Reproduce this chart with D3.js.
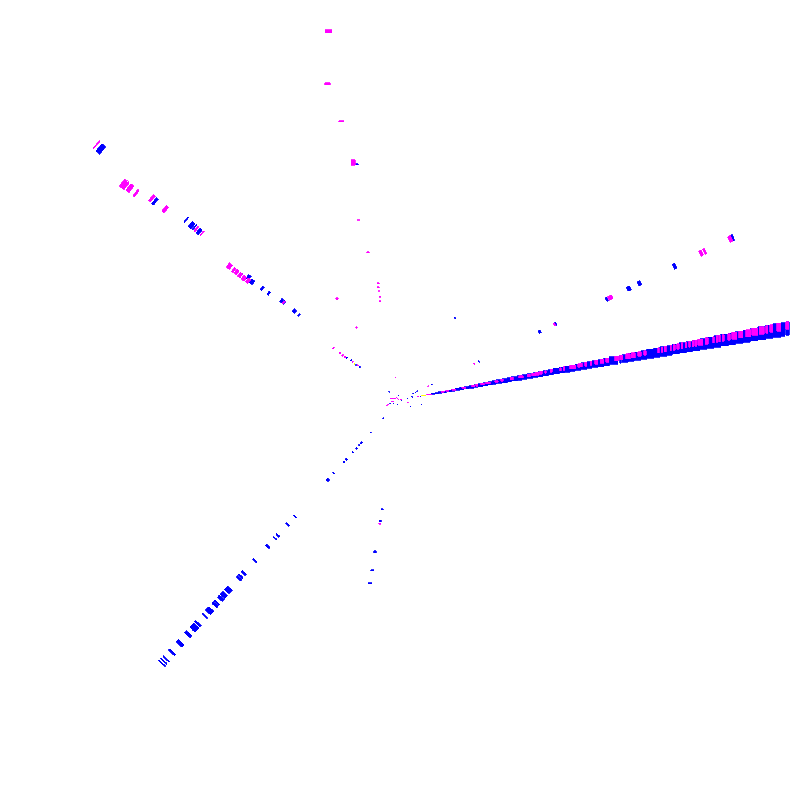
<!DOCTYPE html>
<html>
<head>
<meta charset="utf-8">
<script src="https://cdn.jsdelivr.net/npm/d3@7"></script>
<style>html,body{margin:0;padding:0;background:#fff}svg{display:block}</style>
</head>
<body>
<svg id="chart" width="800" height="800"></svg>
<script>
// Main band rows: [start radius, radial thickness].
const mainBearing = [78.55, 80.55];
const mainMagentaBearing = [78.55, 79.7];
const mainBlue = [[32,4],[36,3],[39,4],[43,4],[47,5],[52,4],[56,5],[61,4],[65,5],[70,5],[75,4],[79,5],[84,5],[89,5],[94,4],[98,6],[104,5],[109,4],[113,6],[119,5],[124,5],[129,6],[135,5],[140,5],[145,6],[151,5],[156,6],[162,5],[167,6],[173,5],[178,6],[184,6],[190,5],[195,6],[201,6],[207,6],[213,8.5],[223.5,1.5],[226,6],[232,6],[238,7],[245,6],[251,7],[258,6],[264,7],[271,6],[277,7],[284,7],[291,6],[297,8],[305,7],[312,7],[319,7],[326,8],[334,7],[341,8],[349,7],[356,8],[364,8],[372,7],[379,8],[387,4],[392.5,3.5]];
const mainMagenta = [[27,5],[42,3],[46.7,3],[52.6,4],[62.7,4],[72.9,3.4],[77.2,2],[82.3,3.4],[87.4,4.7],[96.5,3.4],[102.6,2.3],[112.5,2.7],[121,4.7],[129.4,3],[134,4],[137.5,4.4],[142.3,2.7],[147.4,1.7],[153.2,2],[162.6,1.7],[166,1.7],[172.8,6],[181.2,1.7],[183.6,2],[188,2.4],[193.8,1.7],[198.2,3.4],[204,3.4],[209.3,3.4],[218.5,4.4],[223.6,3.4],[229.7,4.7],[235.4,4],[242.2,3.4],[248,2.7],[262.5,1.7],[266,1.7],[269.3,1.7],[275,1],[278.5,2],[281.8,2.7],[286.3,1.7],[290.6,1.4],[294,1.4],[297.5,1.8],[300,2],[303.2,5],[311,3],[318.4,1.7],[321.8,1.7],[324.5,1.4],[328,2.4],[333.7,2.4],[338,4.7],[344.8,4],[352.3,5],[358.4,5.7],[365.9,5],[372.6,1.7],[376.7,2.7],[383.5,4.4],[393,2.7]];

// Arm rows: [centre radius, radial thickness], on one bearing (degrees clockwise from north).
const lowerLeftBearing = 222.1;
const lowerLeftBlue = [[24.8,1],[43.6,1],[57,1],[58.4,1],[61,1],[65,1.5],[70.5,1],[80,1.5],[83.6,2],[98.8,1],[107.8,2.5],[156.8,1],[167.6,1.5],[182.4,1.5],[186.4,1],[197.3,2],[216.5,1.5],[233.2,2],[237.6,1.5],[240.3,2],[256,5],[262.8,4],[267.3,3],[273.2,1.5],[275.9,2.5],[284,5],[291,1],[301.5,2],[306.8,6],[315.8,3],[328,3.5],[340,2],[349,1],[352.2,1],[355,1]];

const upperRightBearing = 64;
const upperRightBlue = [[35.4,1],[87.7,1],[155.4,2],[172.8,2.5],[229.9,1.5],[254.4,3.5],[266.2,3],[305.5,3],[370,2]];
const upperRightMagenta = [[31.4,1],[82.6,1],[172,1],[232.1,1],[234.7,3],[335,2.5],[339,2],[367.5,3]];

const lowerBearing = 189.3;
const lowerBlue = [[110.8,1],[122.6,2],[154,2],[172.5,1],[185.7,1]];
const lowerMagenta = [[125.4,0.8]];

// Marks with their own bearing: [bearing, centre radius, radial thickness]
const upperLeftBlue = [[307.8,13.5,1],[309.3,51.7,1],[309.3,52.1,1],[308.5,56.2,1],[309,63,1],[308.4,68,1],[310.1,132,1],[310,137,1],[310.1,138.6,2],[310.1,151.7,2],[310,154.5,2.5],[309.1,169.2,2],[309,177.3,2],[308.6,189.5,4],[309,195,3],[308,202,1],[310,262.2,3],[310.1,268.5,1],[310,272,4],[310.1,279.6,1],[309,315.4,2.5],[310,390.6,5]];
const upperLeftMagenta = [[309.4,54.7,1],[308.8,60.7,1],[308,69.8,1.5],[308,72.7,1],[308.1,76.2,1.5],[308,84.6,1],[310,151.8,1],[308.1,193.2,3],[308,197.9,4],[308,203,3],[308.1,207.5,3],[308,211,2],[308.1,216.8,4],[310.1,258.8,1],[310,266,1.5],[309.1,302.6,3],[309.1,319.7,2.5],[308.1,335.3,2],[308.1,343.3,4],[308,350,6],[310.1,396.6,1]];
const looseBlue = [[349.5,240,1],[33.9,98.7,1],[338,4.6,1],[251,10.2,1.5],[244,7.5,1.5],[212,5.1,1.5],[112,1.8,1],[77.5,7.9,1.5],[121.5,12,1.5],[101.4,21.7,1.5],[73.7,11.8,1.5],[63.3,14.9,1],[64.5,17,1],[63.3,19.4,1],[77.6,12.6,1],[80.8,20.6,1]];
const looseMagenta = [[349,375.6,3],[347.05,324.5,2],[348.1,284.8,1],[348.9,242,6],[346.9,184.8,1],[347.8,151.4,1],[349.4,119,1],[349,115,1],[349.1,111,1],[349,105,1],[348.5,100.8,1],[349.3,23.1,1.5],[328.1,119.3,2],[329.2,84.6,1],[284,6.9,3],[281.6,8.5,3],[289,5.3,3],[301,2.9,3],[67,1.2,2.4],[256.9,7.5,3],[247.9,13.3,2.5],[107.5,7.7,1.5],[78.4,18.4,1.5]];
const looseYellow = [[308.5,57.9,1],[79.4,24,4]];

const colorBlue = "#0000ff", colorMagenta = "#ff00ff", colorYellow = "#ffff00";
const spanWide = 1.4, spanNarrow = 1.0;

const radius = d3.scaleLinear().domain([0, 400]).range([0, 400]);
const angle = d3.scaleLinear().domain([0, 360]).range([0, 2 * Math.PI]);
const arc = d3.arc()
  .innerRadius(d => radius(d.r))
  .outerRadius(d => radius(d.r + d.t))
  .startAngle(d => angle(d.a0))
  .endAngle(d => angle(d.a1));

// Marks close to an axis are drawn with axis-aligned sides, as in the reference.
function markPath(d) {
  const mid = (d.a0 + d.a1) / 2;
  const fold = ((mid % 180) + 180) % 180;
  const sx = b => Math.sin(angle(b)), cy = b => -Math.cos(angle(b));
  const rm = radius(d.r + d.t / 2);
  let x0, x1, y0, y1;
  if (Math.abs(fold - 90) < 15) {
    x0 = radius(d.r) * sx(mid); x1 = radius(d.r + d.t) * sx(mid);
    y0 = rm * cy(d.a0); y1 = rm * cy(d.a1);
  } else if (fold < 15 || fold > 165) {
    y0 = radius(d.r) * cy(mid); y1 = radius(d.r + d.t) * cy(mid);
    x0 = rm * sx(d.a0); x1 = rm * sx(d.a1);
  } else {
    return arc(d);
  }
  const p = d3.path();
  p.rect(Math.min(x0, x1), Math.min(y0, y1), Math.abs(x1 - x0), Math.abs(y1 - y0));
  return p.toString();
}

const onArm = (rows, bearing, span) => rows.map(([r, t]) => ({r: Math.max(0, r - t / 2), t, a0: bearing - span / 2, a1: bearing + span / 2}));
const onBand = (rows, band) => rows.map(([r, t]) => ({r, t, a0: band[0], a1: band[1]}));
const loose = (rows, span) => rows.map(([b, r, t]) => ({r: Math.max(0, r - t / 2), t, a0: b - span / 2, a1: b + span / 2}));

const layers = [
  {color: colorYellow, marks: loose(looseYellow, spanNarrow)},
  {color: colorBlue, marks: [].concat(
    onBand(mainBlue, mainBearing),
    onArm(lowerLeftBlue, lowerLeftBearing, spanWide),
    loose(upperLeftBlue, spanWide),
    onArm(upperRightBlue, upperRightBearing, spanNarrow),
    onArm(lowerBlue, lowerBearing, spanNarrow),
    loose(looseBlue, spanNarrow))},
  {color: colorMagenta, marks: [].concat(
    onBand(mainMagenta, mainMagentaBearing),
    loose(upperLeftMagenta, spanWide),
    onArm(upperRightMagenta, upperRightBearing, spanNarrow),
    onArm(lowerMagenta, lowerBearing, spanNarrow),
    loose(looseMagenta, spanNarrow))}
];

const root = d3.select("#chart").append("g").attr("transform", "translate(400,400)");
root.selectAll("g.layer").data(layers).join("g").attr("class", "layer")
  .attr("fill", d => d.color).attr("stroke", d => d.color)
  .selectAll("path").data(d => d.marks).join("path")
  .attr("d", markPath)
  .attr("stroke-width", 0.8)
  .attr("shape-rendering", "crispEdges");
</script>
</body>
</html>
